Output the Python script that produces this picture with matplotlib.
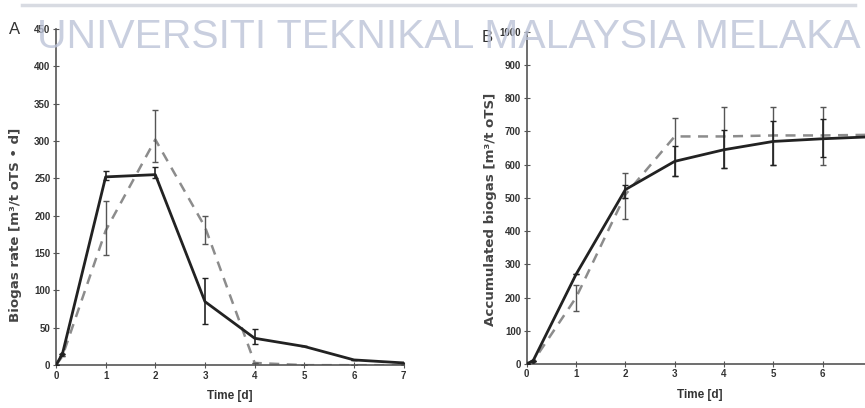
import matplotlib.pyplot as plt
import numpy as np

# panel A - biogas rate
days_a = [0, 0.13, 1, 2, 3, 4, 5, 6, 7]
rate_solid = [0, 15, 252, 255, 85, 36, 25, 7, 3]
rate_solid_lo = [0, 0, 4, 5, 30, 8, 0, 0, 0]
rate_solid_hi = [0, 0, 8, 10, 32, 12, 0, 0, 0]
rate_dash = [0, 12, 180, 302, 185, 3, 0, 0, 0]
rate_dash_lo = [0, 0, 33, 30, 23, 0, 0, 0, 0]
rate_dash_hi = [0, 0, 40, 40, 15, 0, 0, 0, 0]

# panel B - accumulated biogas
days_b = [0, 0.13, 1, 2, 3, 4, 5, 6, 7]
acc_solid = [0, 10, 270, 525, 610, 645, 670, 678, 684]
acc_solid_lo = [0, 0, 0, 25, 45, 55, 70, 55, 0]
acc_solid_hi = [0, 0, 0, 15, 45, 60, 60, 60, 0]
acc_dash = [0, 8, 200, 510, 685, 685, 688, 688, 690]
acc_dash_lo = [0, 0, 40, 75, 120, 95, 88, 88, 0]
acc_dash_hi = [0, 0, 37, 65, 55, 90, 87, 87, 0]

fig = plt.figure(figsize=(8.65, 4.08), dpi=100)
plt.rcParams['font.family'] = ['Liberation Sans', 'DejaVu Sans']

axA = fig.add_axes([0.0647, 0.105, 0.402, 0.824])
axB = fig.add_axes([0.609, 0.108, 0.399, 0.814])

def draw(ax, x, ys, ylo, yhi, yd, ydlo, ydhi, ymax, ystep, xticks, ylabel, lab_xy):
    ax.plot(x, yd, color='#8c8c8c', lw=1.8, dashes=(4, 3), zorder=2)
    ax.errorbar(x, yd, yerr=[ydlo, ydhi], fmt='none', ecolor='#555555',
                elinewidth=1.0, capsize=2, capthick=1.0, zorder=3)
    ax.plot(x, ys, color='#222222', lw=2.0, zorder=4)
    ax.errorbar(x, ys, yerr=[ylo, yhi], fmt='none', ecolor='#222222',
                elinewidth=1.2, capsize=2, capthick=1.0, zorder=5)
    ax.plot(x[1], ys[1], 'o', ms=2.5, color='#222222', zorder=6)
    ax.set_xlim(0, 7)
    ax.set_ylim(0, ymax)
    ax.set_xticks(xticks)
    ax.set_yticks(np.arange(0, ymax + 1, ystep))
    ax.spines['top'].set_visible(False)
    ax.spines['right'].set_visible(False)
    for s in ['left', 'bottom']:
        ax.spines[s].set_color('#555555')
        ax.spines[s].set_linewidth(1.2)
    ax.tick_params(direction='inout', length=4, width=0.8, color='#555555',
                   labelsize=7, pad=2)
    for lab in ax.get_xticklabels() + ax.get_yticklabels():
        lab.set_fontweight('bold')
        lab.set_color('#333333')
    ax.set_xlabel('Time [d]', fontsize=8.5, fontweight='bold', color='#333333', labelpad=7)
    ax.set_ylabel(ylabel, fontsize=9.6, fontweight='bold', family='DejaVu Sans', color='#444444')
    ax.yaxis.set_label_coords(*lab_xy)

draw(axA, days_a, rate_solid, rate_solid_lo, rate_solid_hi,
     rate_dash, rate_dash_lo, rate_dash_hi, 450, 50, range(0, 8),
     'Biogas rate [m³/t oTS • d]', (-0.098, 0.417))
draw(axB, days_b, acc_solid, acc_solid_lo, acc_solid_hi,
     acc_dash, acc_dash_lo, acc_dash_hi, 1000, 100, range(0, 7),
     'Accumulated biogas [m³/t oTS]', (-0.087, 0.464))

fig.text(15 / 865, 1 - 30 / 408, 'A', fontsize=12, color='#333333', ha='center', va='center')
fig.text(487 / 865, 1 - 38 / 408, 'B', fontsize=12, color='#333333', ha='center', va='center')

# watermark and top rule from the screenshot
fig.add_artist(plt.Line2D([22 / 865, 855 / 865], [1 - 5 / 408, 1 - 5 / 408],
                          color='#d8dbe2', lw=2.5, transform=fig.transFigure))
fig.text(449 / 865, 1 - 37 / 408, 'UNIVERSITI TEKNIKAL MALAYSIA MELAKA',
         fontsize=29.4, color='#bcc3d8', alpha=0.8, ha='center', va='center', zorder=10)

fig.savefig('out.png', dpi=100)
